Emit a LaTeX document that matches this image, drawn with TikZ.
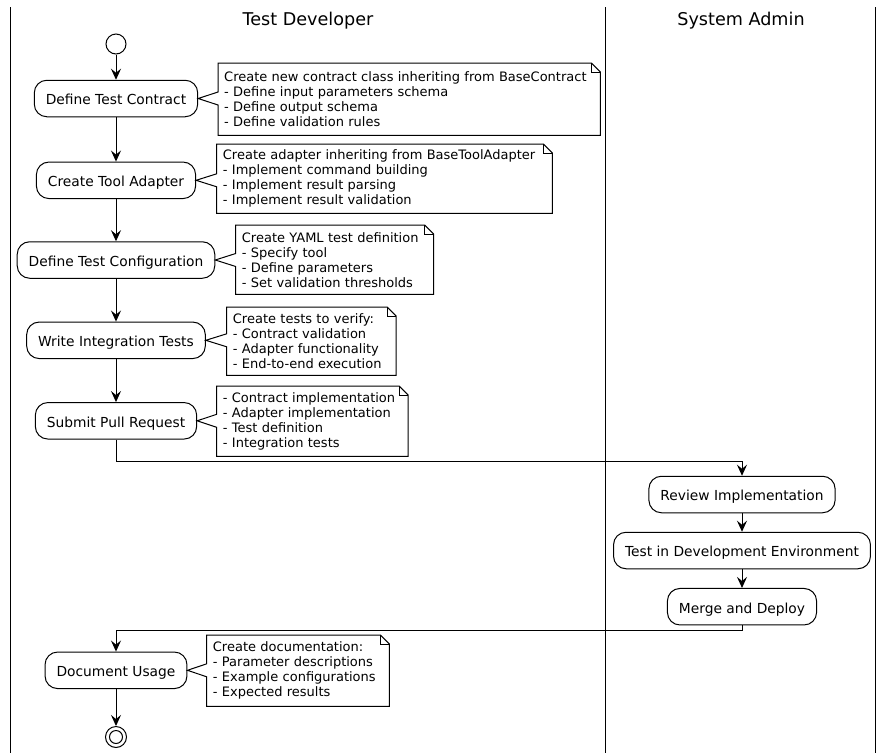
\documentclass[tikz,border=0pt]{standalone}
\usepackage{fontspec}
\setmainfont{DejaVu Sans}
\usetikzlibrary{arrows.meta,calc}
\newcommand{\mynote}[2]{%
  \draw[line] (#1.north west) -- ($(#1.north east)+(-9,0)$) -- ($(#1.north east)+(0,9)$) -- (#1.south east) -- (#1.south west) -- ($(#1.west |- #2.east)+(0,6.5)$) -- (#2.east) -- ($(#1.west |- #2.east)+(0,-6.5)$) -- cycle;
  \draw[line] ($(#1.north east)+(-9,0)$) -- ($(#1.north east)+(-9,9)$) -- ($(#1.north east)+(0,9)$);
}
\begin{document}
\begin{tikzpicture}[x=1pt,y=-1pt,
  line/.style={draw=black,line width=1pt},
  act/.style={draw, line width=1pt, rounded corners=12.5pt, minimum height=36.5pt, inner xsep=11.5pt, inner ysep=0pt, text height=12.8pt, text depth=0pt, font=\fontsize{13.8}{16}\selectfont, fill=white},
  notebox/.style={anchor=north west, inner xsep=6pt, inner ysep=0pt, align=left, font=\fontsize{13}{15}\selectfont},
  flow/.style={draw, line width=1pt, -{Stealth[length=11pt,width=10pt,inset=4pt]}},
  lane/.style={draw, line width=1pt},
  lanetitle/.style={font=\fontsize{17.6}{20}\selectfont, anchor=base},
  startdot/.style={draw, circle, inner sep=0pt, line width=1pt}
]
\useasboundingbox (0,0) rectangle (889,753);
\draw[lane] (10,7) -- (10,753);
\draw[lane] (605,7) -- (605,753);
\draw[lane] (875.5,7) -- (875.5,753);
\node[lanetitle] (t1) at (308,25) {Test Developer};
\node[lanetitle] (t2) at (741,25) {System Admin};

\node[startdot, minimum size=20pt] (start) at (116,44) {};
\node[act] (a1) at (116,98.5) {Define Test Contract};
\node[act] (a2) at (116,180.3) {Create Tool Adapter};
\node[act] (a3) at (116,260) {Define Test Configuration};
\node[act] (a4) at (116,340.3) {Write Integration Tests};
\node[act] (a5) at (116,420.8) {Submit Pull Request};
\node[act] (b1) at (742,494.5) {Review Implementation};
\node[act] (b2) at (742,550.5) {Test in Development Environment};
\node[act] (b3) at (742,606.7) {Merge and Deploy};
\node[act] (a6) at (116,670.3) {Document Usage};
\node[startdot, minimum size=21pt] (stop) at (116,737) {};
\node[startdot, minimum size=13pt] (stopin) at (116,737) {};

\draw[flow] (start) -- (a1);
\draw[flow] (a1) -- (a2);
\draw[flow] (a2) -- (a3);
\draw[flow] (a3) -- (a4);
\draw[flow] (a4) -- (a5);
\coordinate (j1) at (116,461.5);
\draw[flow] (a5.south) -- (j1) -| (b1.north);
\draw[flow] (b1) -- (b2);
\draw[flow] (b2) -- (b3);
\coordinate (j2) at (742,630);
\draw[flow] (b3.south) -- (j2) -| (a6.north);
\draw[flow] (a6) -- (stop);

\node[notebox, text width=370pt, minimum height=72pt] (n1) at (218,63) {Create new contract class inheriting from BaseContract\\- Define input parameters schema\\- Define output schema\\- Define validation rules};
\node[notebox, text width=323.3pt, minimum height=69pt] (n2) at (216.7,144) {Create adapter inheriting from BaseToolAdapter\\- Implement command building\\- Implement result parsing\\- Implement result validation};
\node[notebox, text width=185.6pt, minimum height=69pt] (n3) at (235.7,225) {Create YAML test definition\\- Specify tool\\- Define parameters\\- Set validation thresholds};
\node[notebox, text width=157pt, minimum height=68pt] (n4) at (226.7,307) {Create tests to verify:\\- Contract validation\\- Adapter functionality\\- End-to-end execution};
\node[notebox, text width=179pt, minimum height=70pt] (n5) at (216.7,386) {- Contract implementation\\- Adapter implementation\\- Test definition\\- Integration tests};
\node[notebox, text width=170.3pt, minimum height=71pt] (n6) at (206.7,635) {Create documentation:\\- Parameter descriptions\\- Example configurations\\- Expected results};
\mynote{n1}{a1}
\mynote{n2}{a2}
\mynote{n3}{a3}
\mynote{n4}{a4}
\mynote{n5}{a5}
\mynote{n6}{a6}
\end{tikzpicture}
\end{document}
